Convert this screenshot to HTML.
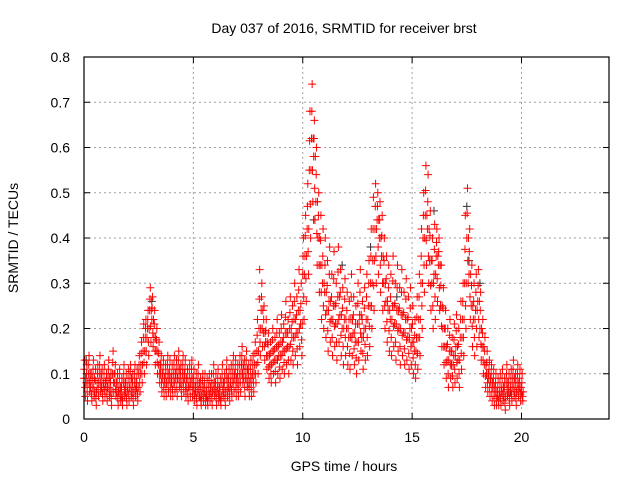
<!DOCTYPE html>
<html><head><meta charset="utf-8"><style>
body{margin:0;background:#fff}
svg text{font-family:"Liberation Sans",sans-serif;font-size:14px;fill:#000}
</style></head><body>
<svg id="chart" width="640" height="480">
<text x="344" y="33" text-anchor="middle">Day 037 of 2016, SRMTID for receiver brst</text>
<text transform="translate(18,238) rotate(-90)" text-anchor="middle">SRMTID / TECUs</text>
<text x="344" y="471" text-anchor="middle">GPS time / hours</text>
<g id="grid"></g><g id="axes"></g><g id="pts"></g>
<rect x="84" y="57" width="525" height="362" fill="none" stroke="#000" stroke-width="1.2"/>
</svg>
<script>
const xTicks=[0,5,10,15,20];
const yTicks=[0,0.1,0.2,0.3,0.4,0.5,0.6,0.7,0.8];
const yTickLabels=["0","0.1","0.2","0.3","0.4","0.5","0.6","0.7","0.8"];
const tStep=0.1;
const midVals=[.09,.08,.10,.07,.09,.06,.08,.10,.07,.08,.07,.09,.06,.10,.08,.06,.07,.05,.08,.06,.07,.09,.06,.08,.07,.10,.12,.15,.18,.20,.24,.22,.18,.15,.12,.10,.09,.08,.10,.09,.08,.10,.09,.11,.08,.10,.09,.07,.08,.09,.07,.06,.08,.05,.07,.06,.05,.07,.06,.08,.06,.07,.05,.08,.06,.09,.07,.08,.10,.09,.08,.10,.12,.09,.11,.08,.09,.10,.12,.15,.20,.24,.19,.17,.14,.12,.15,.13,.16,.14,.17,.15,.19,.16,.20,.18,.22,.19,.24,.21,.32,.36,.42,.55,.62,.58,.48,.40,.34,.30,.28,.24,.26,.22,.25,.21,.27,.23,.20,.22,.20,.18,.22,.19,.17,.21,.23,.18,.20,.22,.25,.30,.35,.42,.44,.40,.36,.30,.26,.24,.22,.25,.21,.24,.20,.23,.19,.22,.18,.20,.17,.15,.18,.22,.30,.40,.45,.42,.35,.30,.32,.36,.34,.25,.20,.16,.13,.15,.12,.14,.16,.13,.18,.22,.30,.40,.32,.25,.22,.24,.26,.20,.16,.12,.10,.09,.08,.07,.06,.05,.06,.07,.05,.08,.06,.07,.09,.06,.08,.07,.06];
const hiVals=[.13,.12,.14,.10,.13,.11,.12,.14,.11,.12,.10,.13,.10,.15,.12,.10,.11,.09,.12,.10,.11,.12,.10,.12,.11,.14,.17,.21,.22,.24,.29,.27,.24,.20,.17,.14,.13,.12,.14,.13,.12,.14,.13,.15,.12,.14,.13,.11,.12,.13,.11,.10,.12,.09,.10,.10,.09,.10,.10,.12,.10,.11,.09,.12,.10,.13,.11,.12,.14,.13,.12,.14,.16,.13,.15,.12,.13,.14,.17,.22,.33,.30,.25,.22,.19,.17,.20,.18,.22,.19,.23,.21,.26,.22,.27,.25,.30,.27,.33,.30,.40,.45,.52,.68,.74,.66,.60,.50,.45,.42,.40,.35,.38,.32,.37,.30,.38,.33,.29,.31,.28,.26,.32,.27,.25,.30,.33,.26,.29,.32,.35,.42,.49,.52,.50,.48,.45,.40,.36,.34,.32,.36,.30,.34,.29,.33,.28,.31,.27,.29,.25,.22,.27,.32,.42,.50,.56,.54,.46,.40,.43,.42,.40,.34,.29,.24,.20,.22,.18,.21,.23,.20,.26,.30,.45,.51,.42,.34,.30,.32,.33,.28,.22,.18,.15,.13,.12,.11,.10,.09,.10,.11,.09,.12,.10,.11,.13,.10,.12,.11,.10];
const loVals=[.05,.04,.06,.04,.05,.03,.05,.06,.04,.05,.04,.05,.03,.06,.05,.03,.04,.03,.05,.03,.04,.05,.03,.05,.04,.06,.08,.10,.12,.14,.17,.16,.12,.10,.08,.06,.05,.05,.06,.05,.05,.06,.05,.07,.05,.06,.05,.04,.05,.05,.04,.03,.05,.03,.04,.03,.03,.04,.03,.05,.03,.04,.03,.05,.03,.05,.04,.05,.06,.05,.05,.06,.08,.05,.07,.05,.05,.06,.08,.10,.14,.16,.13,.11,.09,.08,.10,.08,.10,.09,.11,.10,.12,.10,.13,.12,.14,.12,.16,.14,.22,.26,.32,.40,.48,.44,.34,.28,.22,.20,.18,.15,.17,.14,.16,.13,.17,.14,.12,.14,.12,.11,.14,.12,.10,.13,.15,.11,.13,.14,.16,.20,.24,.30,.32,.28,.24,.20,.17,.15,.14,.16,.13,.15,.12,.14,.12,.13,.11,.12,.10,.09,.11,.14,.20,.28,.34,.30,.24,.20,.22,.26,.24,.16,.12,.09,.07,.09,.07,.08,.09,.07,.11,.14,.20,.30,.22,.16,.14,.16,.18,.13,.10,.07,.06,.05,.04,.03,.03,.03,.03,.04,.02,.05,.03,.04,.05,.03,.05,.04,.04];
const blackT=[0.1,3.1,10.5,11.8,13.1,14.3,16.0,17.5,17.6,18.1,19.5];
const blackV=[0.13,0.26,0.44,0.34,0.38,0.27,0.46,0.47,0.35,0.30,0.06];
const NS="http://www.w3.org/2000/svg";
const X0=84,X1=609,Y0=419,Y1=57;
const xs=t=>X0+(X1-X0)*t/24;
const ys=v=>Y0-(Y0-Y1)*v/0.8;
function mk(tag,attrs,parent){const e=document.createElementNS(NS,tag);for(const k in attrs)e.setAttribute(k,attrs[k]);parent.appendChild(e);return e;}
const grid=document.getElementById('grid'),axes=document.getElementById('axes'),pts=document.getElementById('pts');
xTicks.forEach(t=>{const x=xs(t);
 if(t>0){const g=mk('line',{x1:x,x2:x,y1:Y1,y2:Y0,stroke:'#a0a0a0','stroke-dasharray':'2,3'},grid);
 
 }
 mk('line',{x1:x,x2:x,y1:Y0,y2:Y0-6,stroke:'#000'},axes);
 mk('line',{x1:x,x2:x,y1:Y1,y2:Y1+6,stroke:'#000'},axes);
 const l=mk('text',{x:x,y:Y0+23,'text-anchor':'middle'},axes);l.textContent=t;
 
 });
yTicks.forEach((v,i)=>{const y=ys(v);
 if(i>0&&i<yTicks.length-1){const g=mk('line',{x1:X0,x2:X1,y1:y,y2:y,stroke:'#a0a0a0','stroke-dasharray':'2,3'},grid);
 
 }
 mk('line',{x1:X0,x2:X0+6,y1:y,y2:y,stroke:'#000'},axes);
 mk('line',{x1:X1,x2:X1-6,y1:y,y2:y,stroke:'#000'},axes);
 const l=mk('text',{x:X0-14,y:y+5,'text-anchor':'end'},axes);l.textContent=yTickLabels[i];
 
 });
function plus(t,v,col,name){const x=xs(t),y=ys(v);
 const p=mk('path',{d:`M${x-4},${y}H${x+4}M${x},${y-4}V${y+4}`,stroke:col,'stroke-width':1,fill:'none'},pts);
 
 }
blackT.forEach((t,i)=>plus(t,blackV[i],'#333','black-point'));
midVals.forEach((m,i)=>{const t=i*tStep,h=hiVals[i],lo=loVals[i];
 plus(t,m,'#f00','red-point');
 plus(t+0.03,h,'#f00','red-point');
 plus(t+0.06,lo,'#f00','red-point');
 plus(t+0.015,(m+h)/2,'#f00','red-point');
 plus(t+0.045,(m+lo)/2,'#f00','red-point');
 plus(t+0.075,m,'#f00','red-point');});
</script>
</body></html>
